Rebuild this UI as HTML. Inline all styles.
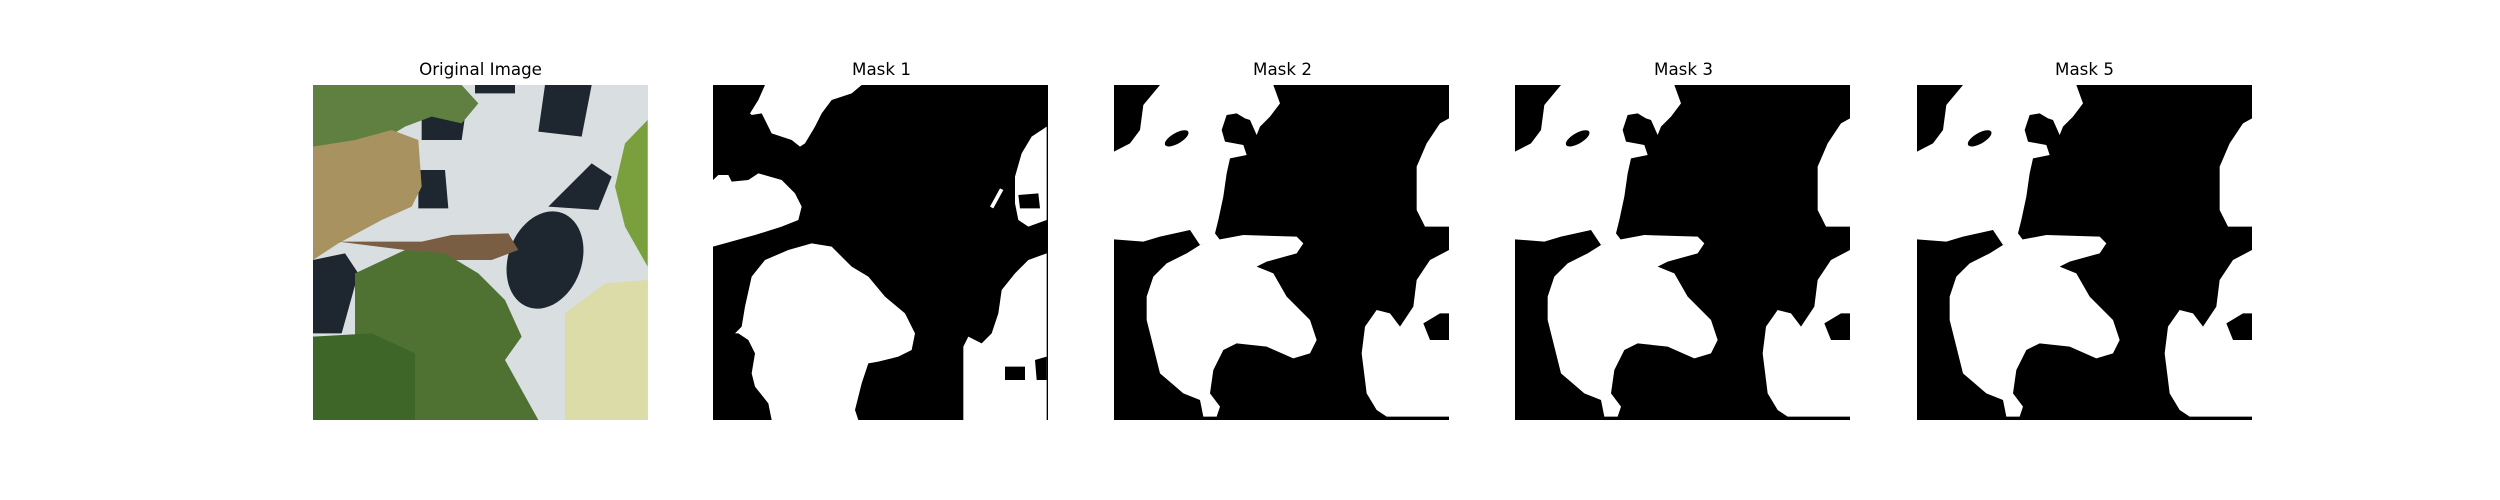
<!DOCTYPE html>
<html><head><meta charset="utf-8"><style>
html,body{margin:0;padding:0;background:#fff;}
.panel{position:absolute;top:85px;width:335px;height:335px;background:#000;overflow:hidden}
.panel svg{position:absolute;left:0;top:0;width:335px;height:335px;display:block}
.title{position:absolute;top:59px;width:335px;text-align:center;font-family:"DejaVu Sans","Liberation Sans",sans-serif;font-size:16.7px;color:#000;line-height:20px}
</style></head><body>
<div class="title" style="left:313px">Original Image</div>
<div class="title" style="left:714px">Mask 1</div>
<div class="title" style="left:1115px">Mask 2</div>
<div class="title" style="left:1516px">Mask 3</div>
<div class="title" style="left:1917px">Mask 5</div>

<div class="panel" style="left:313px;background:#d9dee1">
<svg viewBox="24 75 1005 1005" preserveAspectRatio="none">
  <path fill="#1e2630" d="M510,75 L630,75 L630,100 L510,100 Z"/>
  <path fill="#1e2630" d="M720,75 L860,75 L830,230 L700,215 Z"/>
  <path fill="#1e2630" d="M350,175 L430,150 L480,170 L470,240 L350,240 Z"/>
  <path fill="#1e2630" d="M340,330 L420,330 L430,445 L340,445 Z"/>
  <path fill="#1e2630" d="M730,440 L860,310 L920,350 L880,450 Z"/>
  <ellipse cx="720" cy="600" rx="110" ry="150" transform="rotate(20 720 600)" fill="#1e2630"/>
  <path fill="#1e2630" d="M24,600 L120,580 L160,640 L110,820 L24,820 Z"/>
  <path fill="#5f8040" d="M24,75 L470,75 L520,130 L470,190 L380,170 L300,200 L200,260 L24,260 Z"/>
  <path fill="#a8925f" d="M24,260 L150,240 L260,210 L340,240 L350,380 L320,440 L230,480 L100,550 L24,600 Z"/>
  <path fill="#7a5e44" d="M100,545 L350,545 L440,525 L610,520 L640,570 L560,600 L450,600 L300,570 Z"/>
  <path fill="#4f7232" d="M150,640 L300,570 L420,580 L520,640 L600,720 L650,830 L600,900 L700,1080 L250,1080 L150,900 Z"/>
  <path fill="#3d6628" d="M24,830 L200,820 L330,880 L330,1080 L24,1080 Z"/>
  <path fill="#dcdca8" d="M780,760 L900,670 L1028,660 L1028,1080 L780,1080 Z"/>
  <path fill="#7aa03e" d="M1028,180 L960,250 L930,380 L960,500 L1028,620 Z"/>
</svg></div>

<div class="panel" style="left:713px">
<svg viewBox="24 15 1005 1005" preserveAspectRatio="none">
  <path fill="#ffffff" d="M135,100 L160,60 L180,15 L470,15 L440,40 L380,60 L350,100 L330,140 L300,190 L285,200 L260,180 L200,160 L170,100 L140,105 Z"/>
  <path fill="#ffffff" d="M24,300 L40,285 L70,285 L80,305 L130,300 L160,280 L230,300 L270,340 L290,380 L280,420 L230,440 L150,465 L24,500 Z"/>
  <path fill="#ffffff" d="M90,760 L110,740 L120,680 L140,590 L180,540 L250,510 L320,490 L380,500 L440,560 L490,590 L540,650 L600,700 L630,760 L620,810 L580,830 L520,845 L490,850 L470,910 L450,990 L460,1020 L200,1020 L190,970 L150,920 L140,880 L150,820 L130,780 L100,760 Z"/>
  <path fill="#ffffff" d="M1025,140 L980,170 L950,220 L930,290 L930,370 L940,420 L970,440 L1025,420 Z"/>
  <path fill="#000000" d="M940,345 L1000,340 L1005,385 L945,385 Z"/>
  <path fill="#ffffff" d="M855,380 L885,325 L895,330 L865,385 Z"/>
  <path fill="#ffffff" d="M1025,520 L970,540 L930,580 L890,630 L880,700 L860,760 L830,790 L790,770 L775,800 L775,1020 L1025,1020 Z"/>
  <path fill="#000000" d="M900,860 L960,860 L960,900 L900,900 Z M990,840 L1025,830 L1025,900 L995,900 Z"/>
</svg></div>

<div class="panel" style="left:1114px">
<svg viewBox="12 15 1005 1005" preserveAspectRatio="none">
  <path fill="#ffffff" d="M12,215 L60,190 L90,150 L100,75 L150,15 L490,15 L510,70 L480,110 L450,140 L440,165 L420,120 L405,115 L380,100 L350,105 L335,150 L345,185 L400,195 L410,225 L360,235 L350,280 L340,350 L325,420 L315,460 L330,480 L270,495 L240,450 L150,470 L100,485 L12,478 Z"/>
  <ellipse fill="#000000" cx="200" cy="175" rx="40" ry="16" transform="rotate(-30 200 175)"/>
  <path fill="#ffffff" d="M270,495 L320,480 L400,465 L560,470 L580,490 L560,520 L470,545 L440,560 L490,580 L530,650 L600,720 L620,780 L600,820 L550,835 L470,800 L380,790 L340,810 L310,870 L300,940 L330,980 L320,1010 L280,1010 L270,960 L220,940 L150,880 L130,800 L110,720 L110,650 L130,590 L170,550 L230,520 Z"/>
  <path fill="#ffffff" d="M1017,115 L990,130 L950,190 L920,260 L920,390 L945,440 L1017,440 Z"/>
  <path fill="#ffffff" d="M1017,510 L960,540 L920,600 L910,680 L870,740 L840,700 L800,690 L765,740 L755,820 L770,940 L800,990 L830,1010 L1017,1010 Z"/>
  <path fill="#000000" d="M940,730 L990,700 L1017,700 L1017,780 L960,780 Z"/>
</svg></div>

<div class="panel" style="left:1515px">
<svg viewBox="12 15 1005 1005" preserveAspectRatio="none">
  <path fill="#ffffff" d="M12,215 L60,190 L90,150 L100,75 L150,15 L490,15 L510,70 L480,110 L450,140 L440,165 L420,120 L405,115 L380,100 L350,105 L335,150 L345,185 L400,195 L410,225 L360,235 L350,280 L340,350 L325,420 L315,460 L330,480 L270,495 L240,450 L150,470 L100,485 L12,478 Z"/>
  <ellipse fill="#000000" cx="200" cy="175" rx="40" ry="16" transform="rotate(-30 200 175)"/>
  <path fill="#ffffff" d="M270,495 L320,480 L400,465 L560,470 L580,490 L560,520 L470,545 L440,560 L490,580 L530,650 L600,720 L620,780 L600,820 L550,835 L470,800 L380,790 L340,810 L310,870 L300,940 L330,980 L320,1010 L280,1010 L270,960 L220,940 L150,880 L130,800 L110,720 L110,650 L130,590 L170,550 L230,520 Z"/>
  <path fill="#ffffff" d="M1017,115 L990,130 L950,190 L920,260 L920,390 L945,440 L1017,440 Z"/>
  <path fill="#ffffff" d="M1017,510 L960,540 L920,600 L910,680 L870,740 L840,700 L800,690 L765,740 L755,820 L770,940 L800,990 L830,1010 L1017,1010 Z"/>
  <path fill="#000000" d="M940,730 L990,700 L1017,700 L1017,780 L960,780 Z"/>
</svg></div>

<div class="panel" style="left:1917px">
<svg viewBox="12 15 1005 1005" preserveAspectRatio="none">
  <path fill="#ffffff" d="M12,215 L60,190 L90,150 L100,75 L150,15 L490,15 L510,70 L480,110 L450,140 L440,165 L420,120 L405,115 L380,100 L350,105 L335,150 L345,185 L400,195 L410,225 L360,235 L350,280 L340,350 L325,420 L315,460 L330,480 L270,495 L240,450 L150,470 L100,485 L12,478 Z"/>
  <ellipse fill="#000000" cx="200" cy="175" rx="40" ry="16" transform="rotate(-30 200 175)"/>
  <path fill="#ffffff" d="M270,495 L320,480 L400,465 L560,470 L580,490 L560,520 L470,545 L440,560 L490,580 L530,650 L600,720 L620,780 L600,820 L550,835 L470,800 L380,790 L340,810 L310,870 L300,940 L330,980 L320,1010 L280,1010 L270,960 L220,940 L150,880 L130,800 L110,720 L110,650 L130,590 L170,550 L230,520 Z"/>
  <path fill="#ffffff" d="M1017,115 L990,130 L950,190 L920,260 L920,390 L945,440 L1017,440 Z"/>
  <path fill="#ffffff" d="M1017,510 L960,540 L920,600 L910,680 L870,740 L840,700 L800,690 L765,740 L755,820 L770,940 L800,990 L830,1010 L1017,1010 Z"/>
  <path fill="#000000" d="M940,730 L990,700 L1017,700 L1017,780 L960,780 Z"/>
</svg></div>
</body></html>
